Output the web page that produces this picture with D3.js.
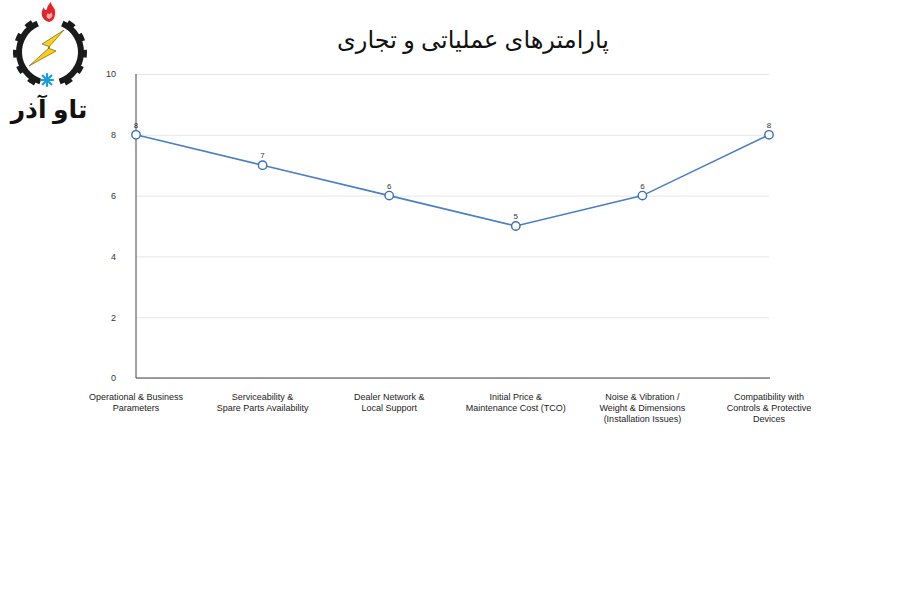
<!DOCTYPE html>
<html><head><meta charset="utf-8">
<script src="https://cdn.jsdelivr.net/npm/d3@7"></script>
<style>body{margin:0;background:#fff}svg{display:block}</style>
</head><body>
<svg id="c" width="900" height="600"></svg>
<script>
const categories = [
  ["Operational & Business", "Parameters"],
  ["Serviceability &", "Spare Parts Availability"],
  ["Dealer Network &", "Local Support"],
  ["Initial Price &", "Maintenance Cost (TCO)"],
  ["Noise & Vibration /", "Weight & Dimensions", "(Installation Issues)"],
  ["Compatibility with", "Controls & Protective", "Devices"]
];
const values = [8, 7, 6, 5, 6, 8];
const yTicks = [0, 2, 4, 6, 8, 10];
const title = "پارامترهای عملیاتی و تجاری";
const logoText = "تاو آذر";

const svg = d3.select("#c");
const m = {l:136, r:769, t:74, b:378};
const x = d3.scalePoint().domain(d3.range(values.length)).range([m.l, m.r]);
const y = d3.scaleLinear().domain([0, 10]).range([m.b, m.t]);

// title
svg.append("text").attr("x", 473).attr("y", 48).attr("text-anchor","middle")
  .attr("font-family","'Noto Sans', 'DejaVu Sans', sans-serif").attr("font-size",24)
  .attr("fill","#111").attr("direction","rtl").text(title);

// grid
const g = svg.append("g");
g.append("g").attr("transform",`translate(${m.l},0)`)
  .call(d3.axisLeft(y).tickValues(yTicks).tickSize(-(m.r-m.l)).tickFormat(d3.format("d")).tickPadding(20))
  .call(a=>a.select(".domain").remove())
  .call(a=>a.selectAll(".tick line").attr("stroke","#e6e6e6").attr("stroke-width",1))
  .call(a=>a.selectAll(".tick text").attr("font-family","'Liberation Sans', Arial, sans-serif").attr("font-size",9).attr("fill","#333"));

// axes lines
g.append("line").attr("x1",m.l).attr("x2",m.l).attr("y1",m.t).attr("y2",m.b).attr("stroke","#444").attr("stroke-width",1);
g.append("line").attr("x1",m.l).attr("x2",m.r+1).attr("y1",m.b).attr("y2",m.b).attr("stroke","#444").attr("stroke-width",1);

// category labels
const cl = g.append("g");
categories.forEach((lines,i)=>{
  const t = cl.append("text").attr("x", x(i)).attr("y", 400).attr("text-anchor","middle")
    .attr("font-family","'Liberation Sans', Arial, sans-serif").attr("font-size",9).attr("fill","#222");
  lines.forEach((s,j)=>t.append("tspan").attr("x",x(i)).attr("dy", j===0?0:11).text(s));
});

// line
const line = d3.line().x((d,i)=>x(i)).y(d=>y(d));
g.append("path").datum(values).attr("d",line).attr("fill","none").attr("stroke","#4a7fc4").attr("stroke-width",1.6);
g.selectAll("circle.pt").data(values).join("circle").attr("class","pt")
  .attr("cx",(d,i)=>x(i)).attr("cy",d=>y(d)).attr("r",4.2)
  .attr("fill","#fff").attr("stroke","#3a6fb8").attr("stroke-width",1.4);
g.selectAll("text.lbl").data(values).join("text").attr("class","lbl")
  .attr("x",(d,i)=>x(i)).attr("y",d=>y(d)-7).attr("text-anchor","middle")
  .attr("font-family","'Liberation Sans', Arial, sans-serif").attr("font-size",8).attr("fill","#333").text(d=>d);

// logo
const L = svg.append("g");
const cx = 50, cy = 52, R = 33;
const arc = d3.arc();
[[-Math.PI*0.9,-Math.PI*0.13],[Math.PI*0.13,Math.PI*0.9]].forEach(([a0,a1])=>{
  L.append("path").attr("transform",`translate(${cx},${cy})`)
    .attr("d",arc({innerRadius:R-5,outerRadius:R+1,startAngle:a0,endAngle:a1})).attr("fill","#1a1a1a");
  const n=5;
  for(let k=0;k<n;k++){
    const a = a0 + (a1-a0)*(k+0.5)/n;
    L.append("path").attr("transform",`translate(${cx},${cy})`)
      .attr("d",arc({innerRadius:R,outerRadius:R+4,startAngle:a-0.11,endAngle:a+0.11})).attr("fill","#1a1a1a");
  }
});
// flame
L.append("path").attr("d","M49,22 C41,20 40,12 44,7 C44,10 46,11 47,9 C47,6 49,4 51,2 C51,6 56,8 55,13 C55,18 53,21 49,22 Z").attr("fill","#e0262b");
L.append("path").attr("d","M49,19 C46,18 46,15 48,13 C49,15 51,14 51,12 C53,14 53,18 49,19 Z").attr("fill","#fff").attr("opacity",0.6);
// bolt
L.append("path").attr("d","M64,30 L42,44 L50,47 L29,66 L56,51 L48,48 Z").attr("fill","#f8cf1c").attr("stroke","#7a6200").attr("stroke-width",0.7);
// snowflake
const sf = L.append("g").attr("transform","translate(47,80)").attr("stroke","#1e9be0").attr("stroke-width",2.2).attr("stroke-linecap","round");
[0,45,90,135].forEach(a=>sf.append("line").attr("x1",-6).attr("x2",6).attr("y1",0).attr("y2",0).attr("transform",`rotate(${a})`));
sf.append("circle").attr("r",2.2).attr("fill","#1e9be0").attr("stroke","none");
// logo text
L.append("text").attr("x",49).attr("y",118).attr("text-anchor","middle").attr("direction","rtl")
  .attr("font-family","'Noto Sans', 'DejaVu Sans', sans-serif").attr("font-weight","bold").attr("font-size",25)
  .attr("fill","#111").text(logoText);
</script>
</body></html>
